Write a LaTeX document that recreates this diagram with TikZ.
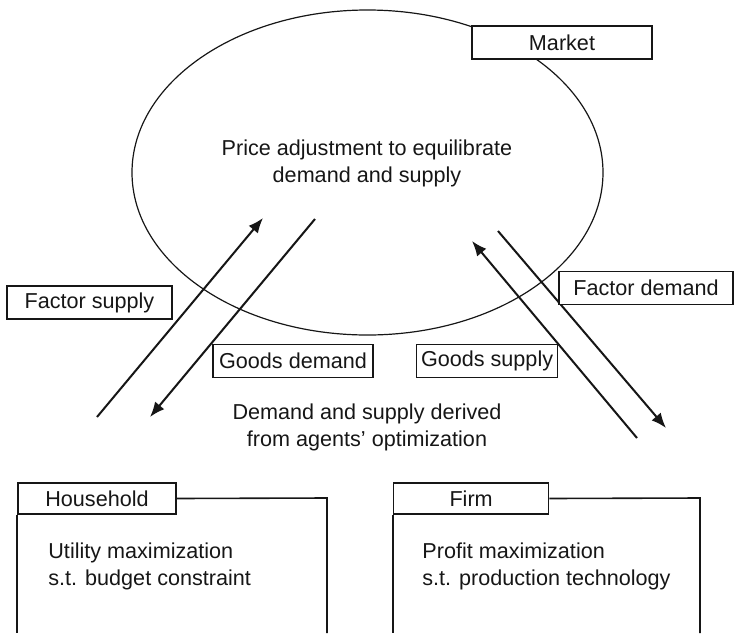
\documentclass[tikz,border=0pt]{standalone}
\usepackage{fontspec}
\setmainfont{Liberation Sans}
\usepackage{tikz}
\usetikzlibrary{positioning,arrows.meta}
\definecolor{ink}{HTML}{161616}
\tikzset{
  tag/.style={draw=ink, fill=white, line width=0.8pt, inner sep=0pt,
              minimum height=16.5pt, text=ink, font=\fontsize{10.8}{13.5}\selectfont},
  txt/.style={inner sep=0pt, align=center, text=ink, font=\fontsize{10.8}{13.5}\selectfont},
  flow/.style={-{Latex[length=7.5pt,width=6pt]}, line width=1pt, color=ink},
  frame/.style={draw=ink, line width=0.8pt},
}

\begin{document}
\begin{tikzpicture}[x=0.5pt, y=-0.5pt]
\useasboundingbox (0,0) rectangle (734,633);
\coordinate (floor) at (0,633);

% the market
\draw[ink, line width=0.6pt] (367.5,172.5) ellipse [x radius=117.75pt, y radius=81.25pt];
\node[tag, minimum width=90pt] (mkt) at (562,42.5) {Market};
\node[txt] (price) at (367,163.5) {Price adjustment to equilibrate\\demand and supply};

% flows between agents and market
\coordinate (fs0) at (97,417);  \coordinate (fs1) at (263,218);
\coordinate (gd0) at (315,219); \coordinate (gd1) at (150,417);
\coordinate (gs0) at (637,438); \coordinate (gs1) at (472,241);
\coordinate (fd0) at (498,231); \coordinate (fd1) at (666,428);
\draw[flow] (fs0) -- (fs1);
\draw[flow] (gd0) -- (gd1);
\draw[flow] (gs0) -- (gs1);
\draw[flow] (fd0) -- (fd1);

\node[tag, minimum width=82.5pt] (fsup) at (89.5,302.5) {Factor supply};
\node[tag, minimum width=87pt] (fdem) at (646,288) {Factor demand};
\node[tag, minimum width=80pt] (gdem) at (293,361) {Goods demand};
\node[tag, minimum width=70.5pt] (gsup) [right=21pt of gdem] {Goods supply};

\node[txt] (deriv) at (367,427.5) {Demand and supply derived\\from agents’ optimization};

% agents
\node[tag, minimum width=79pt, minimum height=15.5pt] (hh) at (97,498.5) {Household};
\node[tag, minimum width=77.5pt, minimum height=15.5pt] (firm) [right=108pt of hh] {Firm};
\coordinate (hhcorner) at (327,498);
\coordinate (firmcorner) at (700,498);
\draw[frame] (hh.south west) -- (hh.south west |- floor);
\draw[frame] (hh.east) -- (hhcorner) -- (hhcorner |- floor);
\draw[frame] (firm.south west) -- (firm.south west |- floor);
\draw[frame] (firm.east) -- (firmcorner) -- (firmcorner |- floor);

\node[txt, align=left, anchor=west] (hhbody) at (48,566.5) {Utility maximization\\s.t. budget constraint};
\node[txt, align=left, anchor=west] (firmbody) at (422,566.5) {Profit maximization\\s.t. production technology};

\end{tikzpicture}
\end{document}
